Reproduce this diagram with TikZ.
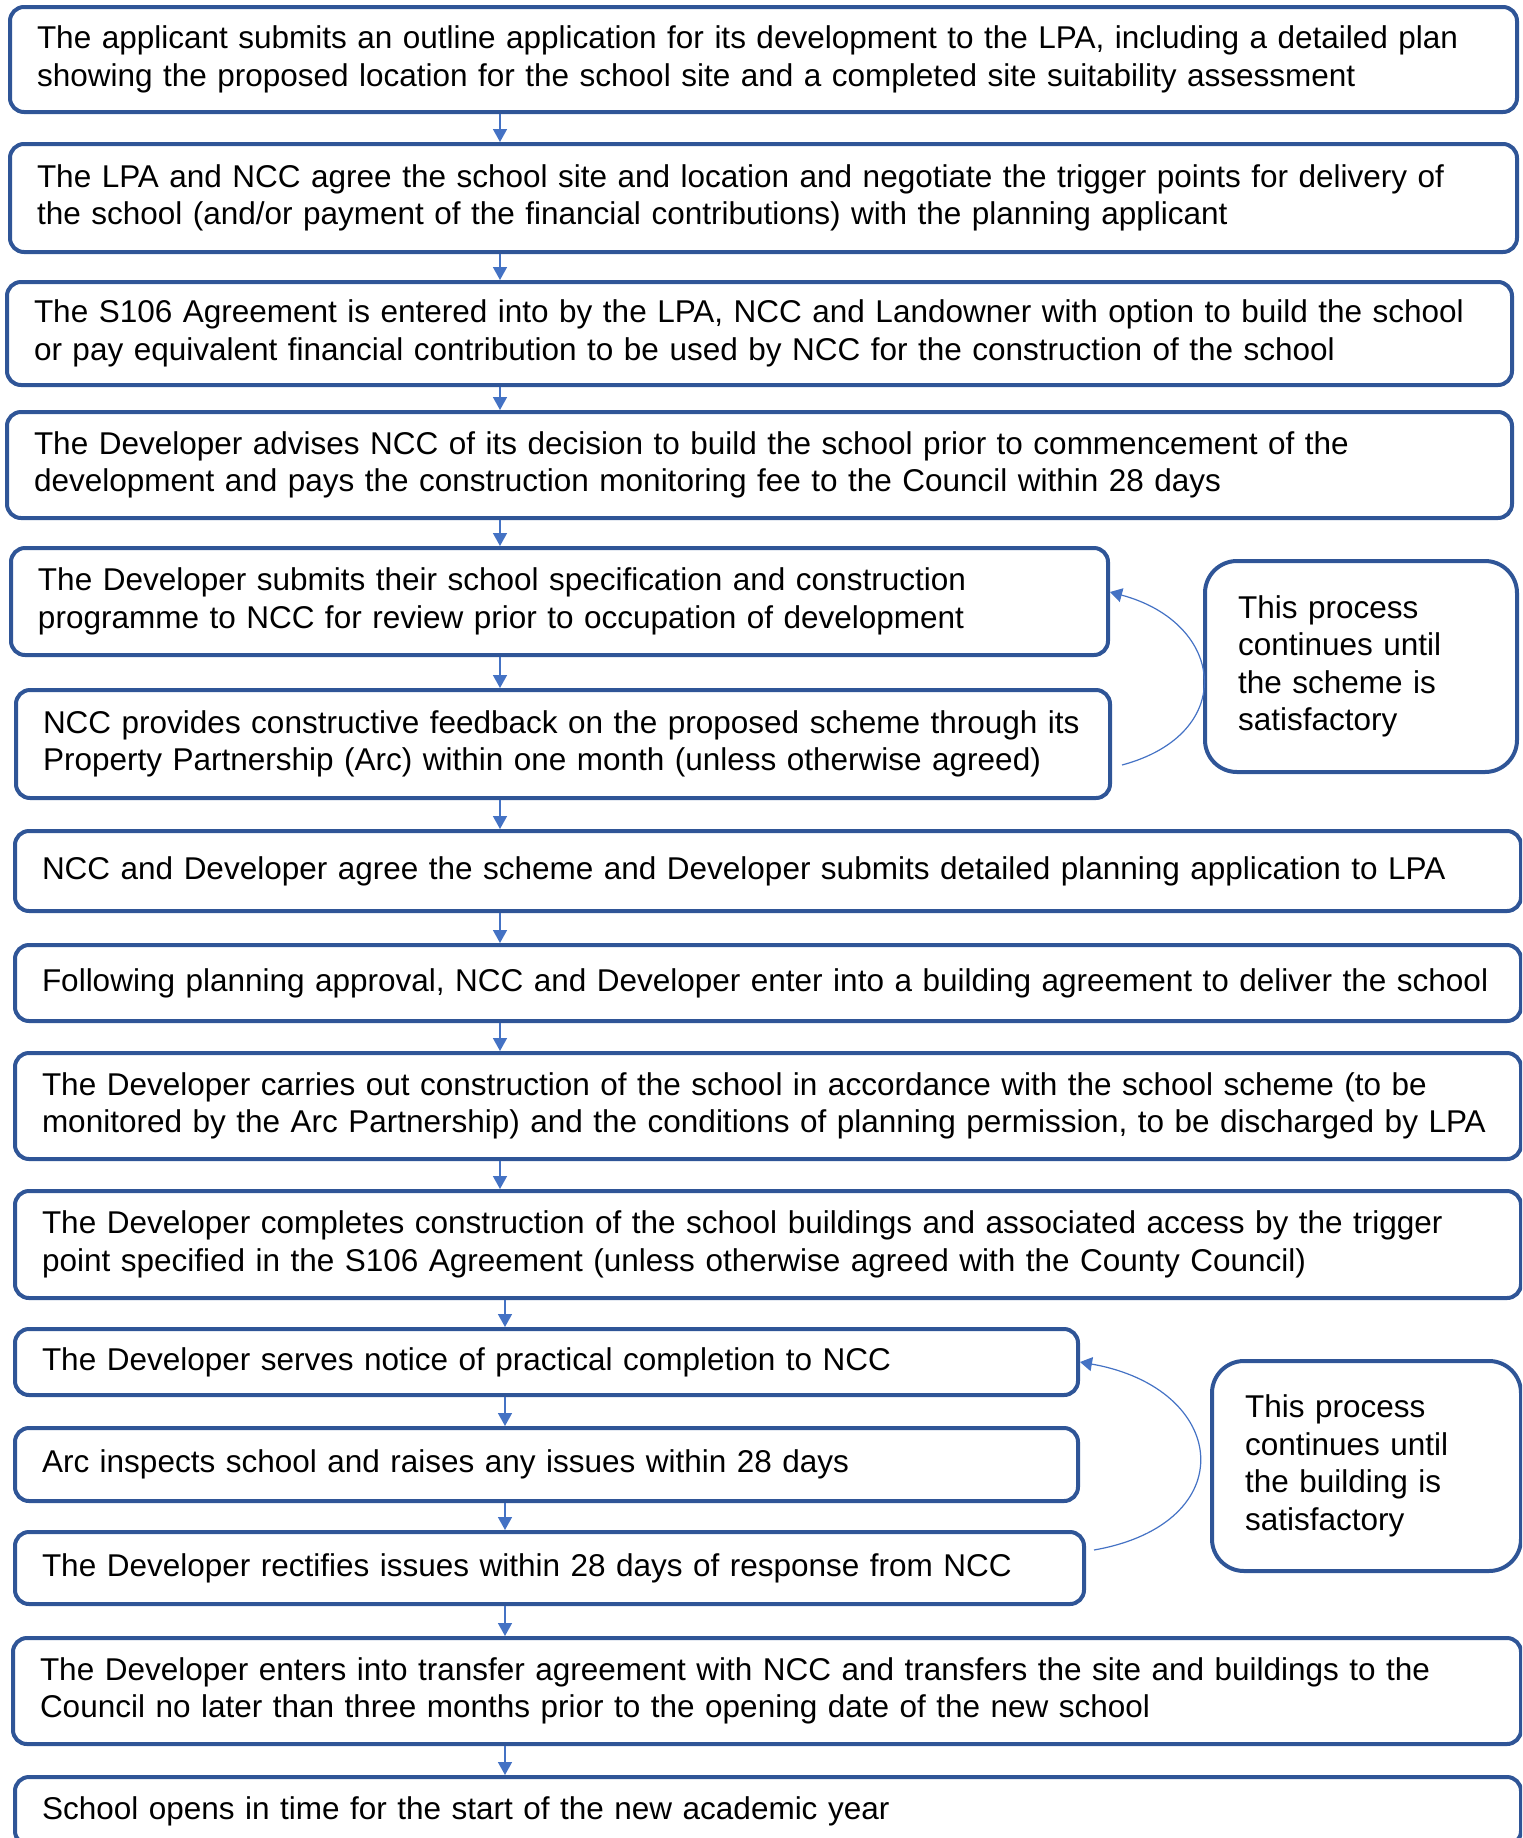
\documentclass[tikz,border=0pt]{standalone}
\usepackage{fontspec}
\setmainfont{Liberation Sans}
\usetikzlibrary{arrows.meta}
\definecolor{boxblue}{RGB}{47,85,151}
\definecolor{arrowblue}{RGB}{68,114,196}

\begin{document}
\begin{tikzpicture}[x=0.5pt, y=-0.5pt,
			stage/.style    = {draw=boxblue, line width=2pt, rounded corners=7pt, anchor=north west, inner xsep=13.5pt, inner ysep=2pt, align=left, font=\fontsize{15.75}{18.75}\selectfont},
			note/.style     = {stage, rounded corners=16pt, inner xsep=16.5pt},
			flow/.style     = {arrowblue, line width=0.75pt, -{Triangle[width=7pt,length=6.5pt]}},
			loopback/.style = {arrowblue, line width=0.6pt, -{Triangle[width=7pt,length=6pt]}},]
			
			\useasboundingbox (0,0) rectangle (1522,1838);
			\clip (0,0) rectangle (1522,1838);
			
			%% PLANNING STAGE
			\node[stage, text width=726.5pt, minimum height=52.5pt] (outline) at (8,5) {The applicant submits an outline application for its development to the LPA, including a detailed plan\\showing the proposed location for the school site and a completed site suitability assessment};
			\node[stage, text width=726.5pt, minimum height=54pt] (agree) at (8,142) {The LPA and NCC agree the school site and location and negotiate the trigger points for delivery of\\the school (and/or payment of the financial contributions) with the planning applicant};
			\node[stage, text width=725.5pt, minimum height=51.5pt] (s106) at (5,280) {The S106 Agreement is entered into by the LPA, NCC and Landowner with option to build the school\\or pay equivalent financial contribution to be used by NCC for the construction of the school};
			\node[stage, text width=725.5pt, minimum height=53pt] (advise) at (5,410) {The Developer advises NCC of its decision to build the school prior to commencement of the\\development and pays the construction monitoring fee to the Council within 28 days};
			
			%% SCHEME REVIEW LOOP
			\node[stage, text width=521.5pt, minimum height=53.5pt] (submit) at (9,546) {The Developer submits their school specification and construction\\programme to NCC for review prior to occupation of development};
			\node[stage, text width=520pt, minimum height=54pt] (feedback) at (14,688) {NCC provides constructive feedback on the proposed scheme through its\\Property Partnership (Arc) within one month (unless otherwise agreed)};
			\node[note, text width=123pt, minimum height=105.5pt] (schemeloop) at (1203,559) {This process\\continues until\\the scheme is\\satisfactory};
			
			%% BUILDING STAGE
			\node[stage, text width=726pt, minimum height=40pt] (detailed) at (13,829) {NCC and Developer agree the scheme and Developer submits detailed planning application to LPA};
			\node[stage, text width=726pt, minimum height=38pt] (building) at (13,943) {Following planning approval, NCC and Developer enter into a building agreement to deliver the school};
			\node[stage, text width=726pt, minimum height=53pt] (construct) at (13,1051) {The Developer carries out construction of the school in accordance with the school scheme (to be\\monitored by the Arc Partnership) and the conditions of planning permission, to be discharged by LPA};
			\node[stage, text width=726pt, minimum height=53.5pt] (complete) at (13,1189) {The Developer completes construction of the school buildings and associated access by the trigger\\point specified in the S106 Agreement (unless otherwise agreed with the County Council)};
			
			%% HANDOVER LOOP
			\node[stage, text width=504.5pt, minimum height=33pt] (notice) at (13,1327) {The Developer serves notice of practical completion to NCC};
			\node[stage, text width=504.5pt, minimum height=36.5pt] (inspect) at (13,1426) {Arc inspects school and raises any issues within 28 days};
			\node[stage, text width=507.5pt, minimum height=36pt] (rectify) at (13,1530) {The Developer rectifies issues within 28 days of response from NCC};
			\node[note, text width=121.5pt, minimum height=105pt] (buildloop) at (1210,1359) {This process\\continues until\\the building is\\satisfactory};
			
			\node[stage, text width=727pt, minimum height=53pt] (transfer) at (11,1636) {The Developer enters into transfer agreement with NCC and transfers the site and buildings to the\\Council no later than three months prior to the opening date of the new school};
			\node[stage, text width=726pt, minimum height=34pt] (opens) at (13,1775) {School opens in time for the start of the new academic year};
			
			%% ARROWS
			\coordinate (ax) at (500,0);
			\coordinate (bx) at (505,0);
			\draw[flow] (ax |- outline.south) -- (ax |- agree.north);
			\draw[flow] (ax |- agree.south) -- (ax |- s106.north);
			\draw[flow] (ax |- s106.south) -- (ax |- advise.north);
			\draw[flow] (ax |- advise.south) -- (ax |- submit.north);
			\draw[flow] (ax |- submit.south) -- (ax |- feedback.north);
			\draw[flow] (ax |- feedback.south) -- (ax |- detailed.north);
			\draw[flow] (ax |- detailed.south) -- (ax |- building.north);
			\draw[flow] (ax |- building.south) -- (ax |- construct.north);
			\draw[flow] (ax |- construct.south) -- (ax |- complete.north);
			\draw[flow] (bx |- complete.south) -- (bx |- notice.north);
			\draw[flow] (bx |- notice.south) -- (bx |- inspect.north);
			\draw[flow] (bx |- inspect.south) -- (bx |- rectify.north);
			\draw[flow] (bx |- rectify.south) -- (bx |- transfer.north);
			\draw[flow] (bx |- transfer.south) -- (bx |- opens.north);
			
			%% LOOP BACK
			\draw[loopback] ([xshift=5pt,yshift=-10.5pt]feedback.east) .. controls +(15:60pt) and +(-15:60pt) .. ([yshift=4.75pt]submit.east);
			\draw[loopback] ([xshift=4pt,yshift=9pt]rectify.east) .. controls +(10:76pt) and +(-10:76pt) .. (notice.east);
\end{tikzpicture}
\end{document}
